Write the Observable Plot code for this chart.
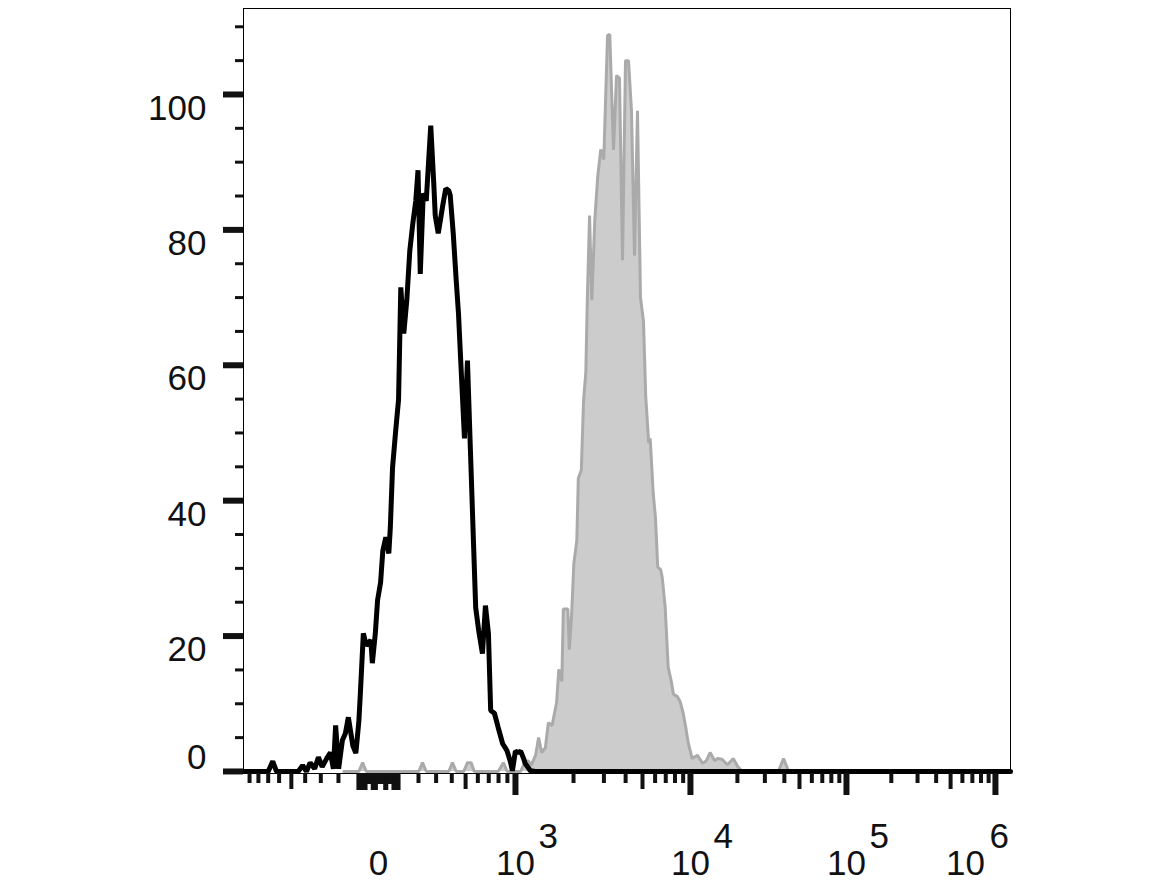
<!DOCTYPE html>
<html>
<head>
<meta charset="utf-8">
<script src="https://cdn.jsdelivr.net/npm/d3@7"></script>
<script src="https://cdn.jsdelivr.net/npm/@observablehq/plot@0.6"></script>
<style>
  html, body { margin: 0; padding: 0; background: #ffffff; }
  #chart svg { display: block; }
</style>
</head>
<body>
<div id="chart"></div>
<script>
// ---- Histogram data (display channel 0..1024, event count) ----
const blackChannel = [0, 9, 29, 33, 39, 44, 63, 73, 79, 84, 89, 95, 100, 105, 111, 116, 120, 123, 127, 132, 136, 140, 146, 150, 154, 156, 160, 164, 170, 172, 176, 179, 183, 186, 190, 194, 196, 199, 203, 207, 210, 214, 218, 222, 226, 230, 233, 236, 240, 244, 247, 250, 254, 256, 260, 266, 270, 274, 276, 280, 284, 287, 290, 292, 295, 299, 303, 307, 310, 314, 319, 323, 327, 330, 335, 340, 346, 350, 352, 356, 359, 363, 367, 370, 374, 376, 383, 390, 397, 1024];
const blackCount   = [0, 0, 0, 0, 1.5, 0, 0, 0, 0.9, 0, 1.3, 0.4, 2.1, 0.7, 1.9, 2.8, 0.4, 6.8, 0.4, 4.6, 5.6, 8.0, 3.8, 2.7, 7.4, 11.5, 20.4, 18.6, 19.4, 16.0, 20.4, 25.3, 27.9, 32.6, 34.6, 32.2, 36.0, 44.9, 50.1, 54.9, 71.5, 64.7, 69.6, 76.9, 80.9, 84.3, 88.8, 73.5, 85.4, 84.3, 89.9, 95.4, 86.9, 82.1, 79.5, 83.6, 86.1, 85.8, 85.1, 79.5, 72.5, 67.7, 60.7, 56.1, 49.2, 60.7, 47.3, 34.0, 24.2, 20.8, 17.4, 24.5, 20.4, 9.0, 8.6, 6.5, 4.1, 3.4, 3.0, 1.6, 0.1, 3.0, 2.8, 3.0, 1.9, 1.2, 0.1, 0, 0, 0];

const grayChannel = [134, 143, 154, 159, 164, 234, 239, 244, 274, 279, 284, 294, 299, 304, 308, 340, 347, 352, 370, 375, 380, 384, 390, 394, 398, 403, 407, 412, 418, 421, 425, 427, 433, 435, 438, 441, 445, 447, 451, 454, 457, 459, 462, 465, 469, 473, 477, 481, 486, 489, 494, 498, 502, 506, 510, 514, 518, 522, 526, 530, 534, 537, 541, 543, 547, 550, 553, 557, 559, 563, 567, 571, 574, 579, 583, 587, 590, 594, 599, 606, 613, 618, 623, 629, 633, 639, 646, 654, 660, 666, 714, 721, 728, 744];
const grayCount   = [0, 0, 0, 1.3, 0, 0, 1.3, 0, 0, 1.3, 0, 0, 1.3, 1.3, 0, 0, 1.3, 0, 0, 1.2, 1.6, 0.9, 2.4, 5.0, 2.8, 3.5, 7.2, 6.8, 10.2, 15.1, 13.3, 24.0, 24.0, 18.0, 23.0, 30.7, 34.1, 43.3, 44.5, 54.8, 58.9, 69.6, 82.1, 69.6, 81.4, 88.0, 91.9, 90.4, 108.7, 108.9, 91.8, 102.8, 102.4, 75.5, 105.0, 105.0, 97.6, 76.2, 97.6, 70.0, 66.5, 55.4, 48.5, 49.2, 41.1, 37.5, 30.2, 29.8, 28.7, 24.2, 15.4, 13.4, 11.4, 11.1, 10.3, 8.6, 6.8, 4.1, 1.9, 2.4, 1.2, 1.6, 2.8, 1.6, 1.9, 1.8, 1.0, 1.9, 0.7, 0, 0, 1.9, 0, 0];

// ---- Axis calibration (fluorescence value -> display channel) ----
const calibValues   = [-1000, 0, 1000, 2000, 5000, 1e4, 1e5, 1e6];
const calibChannels = [-2.7, 180.2, 363.1, 440.6, 532.7, 596.7, 805.0, 1003.9];

// ---- Tick values ----
const yMajorTicks = [0, 20, 40, 60, 80, 100];
const yMinorTicks = [5, 10, 15, 25, 30, 35, 45, 50, 55, 65, 70, 75, 85, 90, 95, 105, 110];
const yLabelTicks = [20, 40, 60, 80, 100];
const yZeroLabel  = [0];

const xMajorTicks = [1e3, 1e4, 1e5, 1e6];
const xMidTicks   = [-500, 500, 5e3, 5e4, 5e5];
const xMinorTicks = [-900, -800, -700, -600, -400, -300, -200,
                     200, 300, 400, 600, 700, 800, 900,
                     2e3, 3e3, 4e3, 6e3, 7e3, 8e3, 9e3,
                     2e4, 3e4, 4e4, 6e4, 7e4, 8e4, 9e4,
                     2e5, 3e5, 4e5, 6e5, 7e5, 8e5, 9e5];
const xZeroLong  = [-100, -90, -80, -70, -60, -30, -20, -10, 30, 40, 70, 80, 90, 100];
const xZeroShort = [-50, -40, 0, 10, 20, 50, 60];

const xLabelValues = [0, 1e3, 1e4, 1e5];
const xLabelBase   = ["0", "10", "10", "10"];
const xLabelExp    = ["", "3", "4", "5"];
const xLastValue = 1e6, xLastBase = "10", xLastExp = "6";

// ---- build ----
const W = 1176, H = 883, ML = 243, MR = 166, MT = 8, MB = 110;
const innerW = W - ML - MR, innerH = H - MT - MB;

const uOf = v => Math.asinh(v / 400);
const calib = d3.scaleLinear().domain(calibValues.map(uOf)).range(calibChannels);
const toChannel = v => calib(uOf(v));

const black = blackChannel.map((c, i) => ({c, n: blackCount[i]}));
const gray = grayChannel.map((c, i) => ({c, n: grayCount[i]}));
const labels = xLabelValues.map((v, i) => ({ch: toChannel(v), base: xLabelBase[i], exp: xLabelExp[i]}));
const last = [{ch: toChannel(xLastValue), base: xLastBase, exp: xLastExp}];

const FONT = "Liberation Sans, Arial, Helvetica, sans-serif";
const INK = "#111111";

// tick helpers: left-pointing y ticks, downward x ticks
const yTicks = (vals, len, sw) => Plot.tickY(vals, {y: d => d, stroke: INK, strokeWidth: sw, insetRight: innerW - len, dx: -len});
const xTicks = (vals, len, sw) => Plot.tickX(vals.map(toChannel), {x: d => d, stroke: INK, strokeWidth: sw, insetTop: innerH - len, dy: len});

const chart = Plot.plot({
  width: W,
  height: H,
  marginLeft: ML,
  marginRight: MR,
  marginTop: MT,
  marginBottom: MB,
  style: {fontFamily: FONT, background: "#ffffff", color: INK},
  x: {domain: [0, 1024], axis: null},
  y: {domain: [-0.3, 112.7], axis: null},
  marks: [
    Plot.areaY(gray, {x: "c", y: "n", fill: "#cccccc", curve: "linear"}),
    Plot.line(gray, {x: "c", y: "n", stroke: "#aaaaaa", strokeWidth: 3, curve: "linear", strokeLinejoin: "miter"}),
    Plot.line(black, {x: "c", y: "n", stroke: "#000000", strokeWidth: 5, curve: "linear", strokeLinejoin: "miter"}),
    Plot.frame({stroke: "#000000", strokeWidth: 1}),
    // y axis
    yTicks(yMajorTicks, 20, 6),
    yTicks(yMinorTicks, 8, 3),
    Plot.text(yLabelTicks, {y: d => d, text: d => String(d), frameAnchor: "left", textAnchor: "end", dx: -37, dy: 14, fontSize: 35, fill: INK}),
    Plot.text(yZeroLabel, {y: d => d, text: d => String(d), frameAnchor: "left", textAnchor: "end", dx: -37, dy: -14, fontSize: 35, fill: INK}),
    // x axis ticks
    xTicks(xMajorTicks, 22, 6),
    xTicks(xMidTicks, 16, 4),
    xTicks(xMinorTicks, 10, 4),
    xTicks(xZeroLong, 17, 3),
    xTicks(xZeroShort, 11, 3),
    // x axis labels
    Plot.text(labels, {x: "ch", text: "base", frameAnchor: "bottom", lineAnchor: "top", dy: 77, fontSize: 35, fill: INK, textAnchor: "middle"}),
    Plot.text(labels, {x: "ch", text: "exp", frameAnchor: "bottom", lineAnchor: "top", dy: 50, dx: 23, fontSize: 35, fill: INK, textAnchor: "start"}),
    Plot.text(last, {x: "ch", text: "base", frameAnchor: "bottom", lineAnchor: "top", dy: 77, dx: -30, fontSize: 35, fill: INK, textAnchor: "middle"}),
    Plot.text(last, {x: "ch", text: "exp", frameAnchor: "bottom", lineAnchor: "top", dy: 50, dx: -6, fontSize: 35, fill: INK, textAnchor: "start"})
  ]
});
document.getElementById("chart").appendChild(chart);
</script>
</body>
</html>
